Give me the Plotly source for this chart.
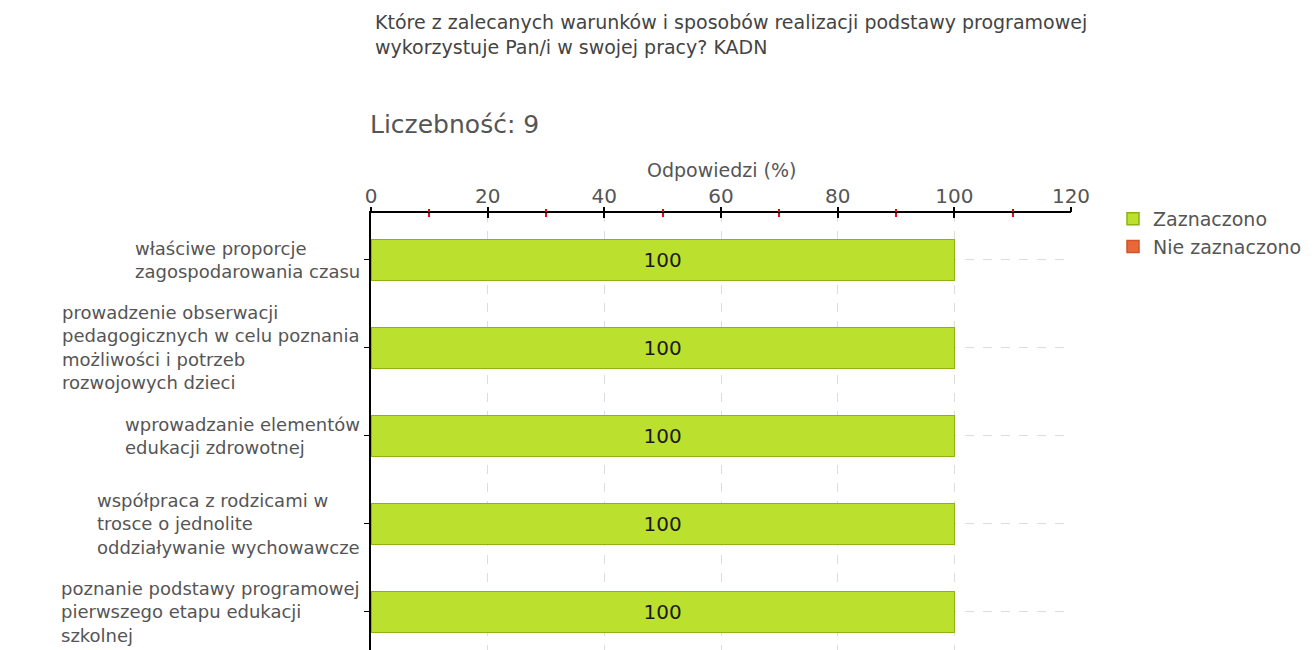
import plotly.graph_objects as go

categories = [
    "właściwe proporcje<br>zagospodarowania czasu",
    "prowadzenie obserwacji<br>pedagogicznych w celu poznania<br>możliwości i potrzeb<br>rozwojowych dzieci",
    "wprowadzanie elementów<br>edukacji zdrowotnej",
    "współpraca z rodzicami w<br>trosce o jednolite<br>oddziaływanie wychowawcze",
    "poznanie podstawy programowej<br>pierwszego etapu edukacji<br>szkolnej",
]
zaznaczono = [100, 100, 100, 100, 100]
nie_zaznaczono = [0, 0, 0, 0, 0]
x_ticks = [0, 20, 40, 60, 80, 100, 120]
x_minor = [10, 30, 50, 70, 90, 110]

title_text = "Które z zalecanych warunków i sposobów realizacji podstawy programowej<br>wykorzystuje Pan/i w swojej pracy? KADN"
count_text = "Liczebność: 9"
axis_title = "Odpowiedzi (%)"

# page body has an 8px margin; figure coordinates are offset accordingly
W, H = 1307, 642
L, R, T, B = 363, 244, 205, 0
FONT = "DejaVu Sans"
GRAY = "#555555"
GREEN, GREEN_EDGE = "#bce02e", "#8db313"
ORANGE, ORANGE_EDGE = "#e8683a", "#d0542a"

ypos = list(range(len(categories)))

fig = go.Figure()
fig.add_trace(go.Bar(
    y=ypos, x=zaznaczono, orientation="h", name="Zaznaczono",
    marker=dict(color=GREEN, line=dict(color=GREEN_EDGE, width=1.5)),
    width=0.47, text=[str(v) for v in zaznaczono], textposition="inside",
    insidetextanchor="middle", textfont=dict(family=FONT, size=20, color="#1a1a1a"),
))
fig.add_trace(go.Bar(
    y=ypos, x=nie_zaznaczono, orientation="h", name="Nie zaznaczono",
    marker=dict(color=ORANGE, line=dict(width=0)),
    width=0.47, textposition="none", showlegend=False, legendgroup="nie",
))
# legend entry for the (zero-valued) second series
fig.add_trace(go.Bar(
    y=[None], x=[None], orientation="h", name="Nie zaznaczono", legendgroup="nie",
    marker=dict(color=ORANGE, line=dict(color=ORANGE_EDGE, width=1.5)),
))

ph = H - T - B
def py(ypix):
    return (H - ypix) / ph

pw = W - L - R

annotations = [
    dict(text=title_text, xref="paper", yref="paper", x=(365 - L) / pw, y=py(1),
         xanchor="left", yanchor="top", align="left", showarrow=False,
         font=dict(family=FONT, size=19, color="#444444")),
    dict(text=count_text, xref="paper", yref="paper", x=0, xshift=-3, y=py(117),
         xanchor="left", yanchor="middle", showarrow=False,
         font=dict(family=FONT, size=25, color="#555555")),
    dict(text=axis_title, xref="paper", yref="paper", x=0.5, y=py(162),
         xanchor="center", yanchor="middle", showarrow=False,
         font=dict(family=FONT, size=19, color=GRAY)),
]
for i, c in enumerate(categories):
    annotations.append(dict(text=c, xref="paper", yref="y", x=0, y=i, xshift=-9,
                            xanchor="right", yanchor="middle", align="left", showarrow=False,
                            font=dict(family=FONT, size=18, color=GRAY)))

fig.update_layout(
    width=W, height=H, margin=dict(l=L, r=R, t=T, b=B, pad=0),
    paper_bgcolor="white", plot_bgcolor="white",
    barmode="stack", bargap=0.5,
    font=dict(family=FONT, color=GRAY),
    xaxis=dict(side="top", range=[0, 120], tickvals=x_ticks, ticks="inside", ticklen=5,
               tickcolor="black", tickwidth=1.5, showline=True, linecolor="black", linewidth=2,
               showgrid=True, gridcolor="#dddddd", griddash="dash", gridwidth=1,
               zeroline=False, tickfont=dict(family=FONT, size=20, color=GRAY),
               minor=dict(tickvals=x_minor, ticks="inside", ticklen=4,
                          tickcolor="red", tickwidth=1.5, showgrid=False),
               fixedrange=True),
    xaxis2=dict(overlaying="x", side="top", range=[0, 120], tickvals=x_ticks, ticks="outside",
                ticklen=5, tickcolor="black", tickwidth=1.5, showticklabels=False,
                showgrid=False, zeroline=False, showline=False,
                minor=dict(tickvals=x_minor, ticks="outside", ticklen=3,
                           tickcolor="red", tickwidth=1.5, showgrid=False)),
    yaxis=dict(range=[4.432, -0.534], tickvals=ypos, showticklabels=False, ticks="outside",
               ticklen=5, tickcolor="black", showline=True, linecolor="black", linewidth=2,
               showgrid=True, gridcolor="#dddddd", griddash="dash", zeroline=False),
    legend=dict(x=(1105 - L) / pw, y=py(192), xanchor="left", yanchor="top", traceorder="normal",
                font=dict(family=FONT, size=19, color=GRAY), itemwidth=30,
                bgcolor="rgba(0,0,0,0)", tracegroupgap=0),
    annotations=annotations,
    showlegend=True,
)
fig.add_trace(go.Scatter(x=[0], y=[0], xaxis="x2", mode="markers", marker=dict(opacity=0),
                         showlegend=False, hoverinfo="skip"))

fig.write_html("out.html")
